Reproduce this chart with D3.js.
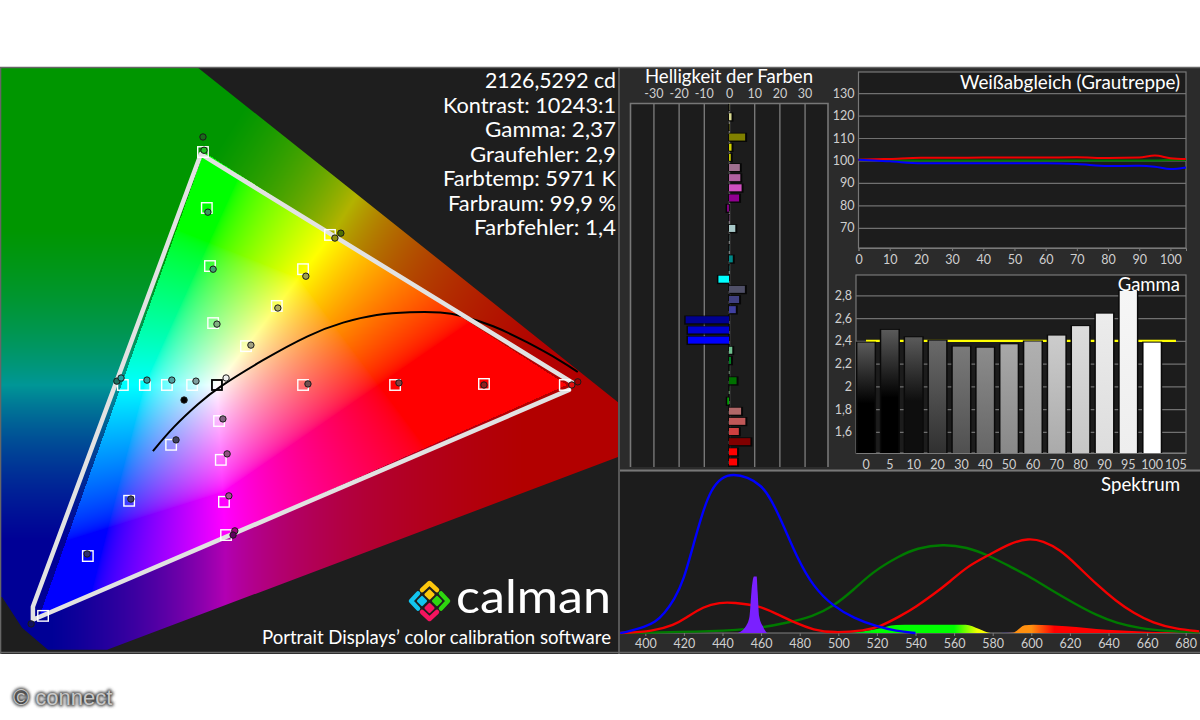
<!DOCTYPE html>
<html><head><meta charset="utf-8">
<script src="https://cdn.jsdelivr.net/npm/d3@7/dist/d3.min.js"></script>
<style>html,body{margin:0;padding:0;background:#fff}svg{display:block}text{font-family:Lato,"Open Sans",sans-serif}</style>
</head><body><div id="c"></div>
<script>
// ---- chromaticity panel data (plane centred on white point, red primary at about 100)
const targetA=[-4,-2.9,-2,-1.1,24.6,17.1,8.3,32.3,-26.9,-20.6,-14.3,-7.1,24.6,50.9,76.3,99.4,0.6,1.1,2,2.6,-13.1,-25.1,-36.9,-49.7];
const targetB=[66.6,50.6,34,17.7,33.1,22.6,11.1,42.9,0,0,0,0,0,0,0.3,0,-10.3,-21.4,-33.4,-42.9,-17.1,-33.1,-48.9,-66];
const whiteTargetA=[0], whiteTargetB=[0];
const measA=[-4,-3.7,-2.6,-1.1,0,25.4,17.4,9.7,33.7,35.4,-28.6,-27.4,-20,-12.9,-6,2.6,-9.4,1.7,2.9,3.4,5.1,4.6,-11.7,-24.6,-37.1,-53.1,26,52,76.3,101.4,103.1];
const measB=[70.9,67.1,49.4,33.1,17.4,31.1,22,11.4,42,43.4,1.1,2,1.4,1.4,1.1,2,-4.3,-9.7,-19.7,-31.7,-41.7,-42.9,-15.7,-32.6,-48.3,-68.3,0.3,0.6,0,0,0.9];
const measColor=["#1a6a1a","#20c020","#3a9a5a","#40a070","#80b080","#a0a050","#b0b060","#a0a080","#909010","#507000","#207060","#20a0a0","#30a0a0","#50a0a0","#80a0a0","#f0f0f0","#000000","#806080","#905080","#a05090","#a00080","#600060","#404060","#404060","#303070","#101060","#705050","#804040","#902020","#e01010","#a00000"];
const gamutLineA=[101.7,-4.6,-52.6,-52.6,100.6];
const gamutLineB=[0.6,66,-63.4,-67.1,-1.4];
const locusA=[-62,-5.7,114.6,114.6,-31.4,-48.3,-55.7,-61.4,-62];
const locusB=[90.9,90.9,-4.9,-20.6,-75.7,-75.7,-69.4,-60.6,-60.6];
const planckA=[-18.3,-12.6,-4.9,0,12.9,26.6,36,45.7,55.1,64.6,69.4,78.9,88.6,98.9,103.1];
const planckB=[-18.9,-12,-4.9,-0.9,7.1,14.6,18,20.3,20.9,20.9,20,17.1,12.3,6.6,3.7];
const statLines=["2126,5292 cd","Kontrast: 10243:1","Gamma: 2,37","Graufehler: 2,9","Farbtemp: 5971 K","Farbraum: 99,9 %","Farbfehler: 1,4"];
const statWidths=[131,173,131,146,173,168,142];
// ---- Helligkeit der Farben
const lumValues=[0.1,1,0.1,6.4,1,0.7,4.3,4.5,5,4,-0.8,0.2,2.5,0.1,0.1,1.5,0.1,-4.2,6.3,4,2.7,-17.2,-16.3,-16.3,1.3,0.8,0.1,3,0.1,-0.7,4.8,6.5,3.9,8.5,3.2,3.2];
const lumColors=["#e0e090","#d8d890","#d0d000","#808000","#d0d000","#c8c800","#a07090","#b060a0","#d050c0","#900090","#800080","#885088","#a8c8c8","#70a0a0","#40a0a0","#008888","#00c0c0","#00ffff","#505068","#404080","#4040a0","#000090","#0000d0","#0000ff","#70c090","#008020","#006010","#007000","#009000","#00a000","#b06868","#c05858","#d04040","#800000","#ff0000","#ff0000"];
const lumTicks=[-30,-20,-10,0,10,20,30];
// ---- Weißabgleich
const grayX=[0,5,10,20,30,40,50,60,70,80,90,95,100,105];
const grayRed=[100.3,100.5,100.7,101.2,101.2,101.3,101.3,101.3,101.4,101.1,101.3,102.2,101,100.6];
const grayGreen=[100.3,100.2,100.1,100,100,100,100,100,100,100,100,100,100.2,100.2];
const grayBlue=[100.3,100,99.6,98.7,98.8,98.8,98.7,98.7,98.4,97.5,97.6,97.2,96.2,96.9];
const grayTicksY=[70,80,90,100,110,120,130];
const grayTicksX=[0,10,20,30,40,50,60,70,80,90,100];
// ---- Gamma
const gammaCats=["0","5","10","20","30","40","50","60","70","80","90","95","100","105"];
const gammaVals=[2.385,2.497,2.432,2.403,2.35,2.34,2.37,2.395,2.447,2.53,2.64,2.84,2.385,null];
const gammaTop=["#5a5a5a","#5a5a5a","#5a5a5a","#6a6a6a","#7a7a7a","#8c8c8c","#a8a8a8","#b0b0b0","#cccccc","#dcdcdc","#ececec","#f6f6f6","#ffffff","#fff"];
const gammaBottom=["#000000","#000000","#0e0e0e","#303030","#505050","#666666","#888888","#999999","#aaaaaa","#c6c6c6","#dddddd","#eeeeee","#ffffff","#fff"];
const gammaTarget=2.4;
const gammaTicks=[1.6,1.8,2,2.2,2.4,2.6,2.8];
// ---- Spektrum
const blueNm=[387,390,400,405,410,415,420,425,430,434,439.5,445.6,453,460,465,471.5,478.4,487,497.5,508,520,530,540];
const blueVal=[0,0.005,0.04,0.067,0.125,0.21,0.335,0.56,0.77,0.9,0.98,1,0.98,0.93,0.847,0.68,0.48,0.29,0.167,0.094,0.04,0.012,0];
const redNm=[387,404,415,421,430,438.7,445.6,459.4,468,478.4,487,497.4,514,521.6,532,540.5,549,558,566.7,578,589,598.4,606,615,623.4,634,644,653,663,675,687];
const redVal=[0,0.01,0.05,0.094,0.167,0.192,0.192,0.17,0.12,0.06,0.02,0,0.015,0.04,0.105,0.167,0.24,0.324,0.418,0.49,0.565,0.596,0.58,0.523,0.429,0.303,0.2,0.125,0.063,0.025,0.01];
const greenNm=[387,438,459,473,487,497.4,508,518,532,540.5,554,566.7,578,589,599,610,622,634,644,656,670,687];
const greenVal=[0,0.01,0.03,0.063,0.105,0.167,0.272,0.387,0.487,0.533,0.56,0.54,0.487,0.418,0.356,0.272,0.188,0.11,0.063,0.03,0.012,0.004];
const spikeNm=[448,452.5,454,455,456.3,457.7,458.2,459,461,463];
const spikeVal=[0,0.05,0.105,0.26,0.355,0.355,0.26,0.105,0.04,0];
const bandNm=[505,510,520,525,530,539,560,566,573,579,584,590.6,596.6,601,618,639,660,687];
const bandVal=[0,0.005,0.025,0.04,0.05,0.052,0.052,0.052,0.025,0,0,0.003,0.048,0.052,0.042,0.02,0.008,0];
const bandStopNm=[505,520,560,572,578,585,592,600,612,687];
const bandStopCol=["#00c040","#00ff00","#00ff00","#f0ff00","#ffff00","#0000ff","#ff9010","#ff9010","#ff0000","#ff0000"];
const spectrumTicks=[400,420,440,460,480,500,520,540,560,580,600,620,640,660,680];

const W=1200,H=720;
const svg=d3.select("#c").append("svg").attr("width",W).attr("height",H).attr("viewBox",`0 0 ${W} ${H}`);
const defs=svg.append("defs");
svg.append("rect").attr("width",W).attr("height",H).attr("fill","#fff");

// ======= Left panel
const xS=d3.scaleLinear().domain([-62,114.6]).range([0,618]);
const yS=d3.scaleLinear().domain([90.9,-76.9]).range([67,654]);
svg.append("rect").attr("x",0).attr("y",67).attr("width",620).attr("height",587).attr("fill","#1e1e1e");

// colour field painted on a canvas through the same scales
(function(){
  const cw=618,ch=587,y0=67;
  const cv=document.createElement("canvas");cv.width=cw;cv.height=ch;
  const ctx=cv.getContext("2d");const im=ctx.createImageData(cw,ch);
  const R=[xS(100),yS(0)],G=[xS(-3.7),yS(66.6)],B=[xS(-51),yS(-66.9)],Wt=[xS(0),yS(0)];
  const den=(G[1]-B[1])*(R[0]-B[0])+(B[0]-G[0])*(R[1]-B[1]);
  const bary=(x,y)=>{const a=((G[1]-B[1])*(x-B[0])+(B[0]-G[0])*(y-B[1]))/den;
    const b=((B[1]-R[1])*(x-B[0])+(R[0]-B[0])*(y-B[1]))/den;return [a,b,1-a-b];};
  const wb=bary(Wt[0],Wt[1]);
  const col=(a,b,c,t,gm)=>{let r=Math.max(a,0)/wb[0],g=Math.max(b,0)/wb[1],bl=Math.max(c,0)/wb[2];
    const m=Math.max(r,g,bl);r/=m;g/=m;bl/=m;const f=v=>Math.pow(Math.max(0,(v-t)/(1-t)),gm);
    return [f(r),f(g),f(bl)];};
  const lerp=(P,Q,t)=>[P[0]+(Q[0]-P[0])*t,P[1]+(Q[1]-P[1])*t];
  const clamp=t=>Math.max(0,Math.min(1,t));
  for(let j=0;j<ch;j++)for(let i=0;i<cw;i++){
    const x=i+.5,y=j+y0+.5;const [a,b,c]=bary(x,y);let rgb,k=1;
    if(a>=0&&b>=0&&c>=0)rgb=col(a,b,c,0.2,0.6);
    else{
      let p,t;
      if(a<0){p=lerp(G,B,clamp((y-G[1])/(B[1]-G[1])));t=0.2;}
      else if(b<0){p=lerp(B,R,clamp((x-B[0])/(R[0]-B[0])));t=0.05;}
      else{const dx=R[0]-G[0],dy=R[1]-G[1];p=lerp(G,R,clamp(((x-G[0])*dx+(y-G[1])*dy)/(dx*dx+dy*dy)));t=0.05;}
      const q=bary(p[0],p[1]);rgb=col(q[0],q[1],q[2],t,1);k=0.59+0.11*rgb[0];
    }
    const o=(j*cw+i)*4;im.data[o]=255*rgb[0]*k;im.data[o+1]=255*rgb[1]*k;im.data[o+2]=255*rgb[2]*k;im.data[o+3]=255;
  }
  ctx.putImageData(im,0,0);
  const line=d3.line().x(d=>xS(d[0])).y(d=>yS(d[1]));
  defs.append("clipPath").attr("id","gamutClip").append("path").attr("d",line(d3.zip(locusA,locusB))+"Z");
  svg.append("image").attr("x",0).attr("y",y0).attr("width",cw).attr("height",ch).attr("href",cv.toDataURL()).attr("clip-path","url(#gamutClip)");
})();

svg.append("path").attr("d",d3.line().curve(d3.curveBasis).x(d=>xS(d[0])).y(d=>yS(d[1]))(d3.zip(planckA,planckB))).attr("fill","none").attr("stroke","#000").attr("stroke-width",2);
svg.append("path").attr("d",d3.line().x(d=>xS(d[0])).y(d=>yS(d[1]))(d3.zip(gamutLineA,gamutLineB))).attr("fill","none").attr("stroke","#e2e2e2").attr("stroke-width",4.5).attr("stroke-linecap","round").attr("stroke-linejoin","round");

const sq=10.5;
svg.append("g").selectAll("rect").data(d3.zip(targetA,targetB)).join("rect")
  .attr("x",d=>xS(d[0])-sq/2).attr("y",d=>yS(d[1])-sq/2).attr("width",sq).attr("height",sq)
  .attr("fill","none").attr("stroke","#fff").attr("stroke-width",1.4);
svg.append("g").selectAll("rect").data(d3.zip(whiteTargetA,whiteTargetB)).join("rect")
  .attr("x",d=>xS(d[0])-5).attr("y",d=>yS(d[1])-5).attr("width",10).attr("height",10)
  .attr("fill","none").attr("stroke","#000").attr("stroke-width",1.8);
svg.append("g").selectAll("circle").data(d3.zip(measA,measB,measColor)).join("circle")
  .attr("cx",d=>xS(d[0])).attr("cy",d=>yS(d[1])).attr("r",3.2).attr("fill",d=>d[2]).attr("stroke","#1a1a1a").attr("stroke-width",1);

svg.append("g").selectAll("text").data(statLines).join("text")
  .attr("x",616).attr("y",(d,i)=>88+i*24.5).attr("text-anchor","end").attr("fill","#fff").attr("font-size",22)
  .attr("textLength",(d,i)=>statWidths[i]).attr("lengthAdjust","spacingAndGlyphs").text(d=>d);

// calman logo
const logo=svg.append("g");
const dia=(cx,cy,s,c)=>logo.append("rect").attr("x",cx-s/2).attr("y",cy-s/2).attr("width",s).attr("height",s).attr("rx",1.5)
   .attr("transform",`rotate(45 ${cx} ${cy})`).attr("fill",c);
const chev=(pts,c)=>logo.append("path").attr("d",d3.line()(pts)).attr("fill","none").attr("stroke",c).attr("stroke-width",4.5).attr("stroke-linejoin","round").attr("stroke-linecap","round");
chev([[422,590],[429.5,583],[437,590]],"#fdc70c");dia(429.5,594.5,8,"#fdc70c");
chev([[418,593.5],[411,601],[418,608.5]],"#12c5f0");dia(422,601,8,"#12c5f0");
chev([[441,593.5],[448,601],[441,608.5]],"#2ed60f");dia(437,601,8,"#2ed60f");
chev([[422,612],[429.5,619],[437,612]],"#f5145f");dia(429.5,608,8,"#f5145f");
svg.append("text").attr("x",456).attr("y",613).attr("fill","#fff").attr("font-size",47).attr("textLength",155).attr("lengthAdjust","spacingAndGlyphs").text("calman");
svg.append("text").attr("x",611).attr("y",644).attr("text-anchor","end").attr("fill","#fff").attr("font-size",18.5).attr("textLength",349).attr("lengthAdjust","spacingAndGlyphs").text("Portrait Displays’ color calibration software");

// panel frame
svg.append("rect").attr("x",620).attr("y",67).attr("width",580).attr("height",587).attr("fill","#2b2b2b");
svg.append("path").attr("d","M0,67.5H1200M0.5,67V654M619,67V654M0,652.5H1200").attr("fill","none").attr("stroke","#666").attr("stroke-width",1.6);

const tickStyle=g=>{g.selectAll("text").attr("fill","#cfcfcf").attr("font-size",12.5);g.select(".domain").attr("stroke","#808080");g.selectAll("line").attr("stroke","#7c7c7c");};

// ======= Helligkeit
const lx=d3.scaleLinear().domain([-39.3,39.3]).range([630,828]);
const ly=d3.scaleBand().domain(d3.range(lumValues.length)).range([101.5,467]);
svg.append("rect").attr("x",630).attr("y",103).attr("width",198).attr("height",364).attr("fill","#1c1c1c");
const lg=svg.append("g").attr("transform","translate(0,103)").call(d3.axisTop(lx).tickValues(lumTicks).tickSize(-364).tickPadding(5).tickFormat(d3.format("d")));
lg.call(tickStyle);lg.select(".domain").remove();lg.selectAll("line").attr("stroke-width",1.4).attr("stroke","#777");
lg.selectAll("text").text(d=>String(d));
svg.append("path").attr("d",`M630.5,467V103.5H828V467`).attr("fill","none").attr("stroke","#777").attr("stroke-width",1.6);
svg.append("line").attr("x1",lx(0)).attr("x2",lx(0)).attr("y1",104).attr("y2",467).attr("stroke","#000").attr("stroke-width",1.5).attr("stroke-dasharray","7 3");
svg.append("g").selectAll("rect").data(lumValues).join("rect")
  .attr("x",d=>Math.min(lx(d),lx(0))-1.5+(d>0?1.5:0)).attr("y",(d,i)=>ly(i)+0.8).attr("width",d=>Math.abs(lx(d)-lx(0))+2).attr("height",9.2).attr("fill","#000").attr("opacity",d=>Math.abs(d)<0.3?0:0.75);
svg.append("g").selectAll("rect").data(lumValues).join("rect")
  .attr("x",d=>Math.min(lx(d),lx(0))).attr("y",(d,i)=>ly(i)+1.6).attr("width",d=>Math.abs(lx(d)-lx(0))).attr("height",7)
  .attr("fill",(d,i)=>lumColors[i]);
svg.append("text").attr("x",729).attr("y",83).attr("text-anchor","middle").attr("fill","#fff").attr("font-size",18.5).attr("textLength",168).attr("lengthAdjust","spacingAndGlyphs").text("Helligkeit der Farben");

// ======= Weißabgleich
const gx=d3.scaleLinear().domain([0,105]).range([858.5,1186]);
const gy=d3.scaleLinear().domain([61,139.4]).range([248,72]);
svg.append("rect").attr("x",858).attr("y",72).attr("width",328).attr("height",176).attr("fill","#1c1c1c");
const gya=svg.append("g").attr("transform","translate(858.5,0)").call(d3.axisLeft(gy).tickValues(grayTicksY).tickSize(-327.5).tickPadding(4));
gya.call(tickStyle);gya.select(".domain").remove();gya.selectAll("line").attr("stroke","#707070").attr("stroke-width",1.2);
const gxa=svg.append("g").attr("transform","translate(0,248)").call(d3.axisBottom(gx).tickValues(grayTicksX).tickSize(3).tickPadding(4));
gxa.call(tickStyle);
svg.append("rect").attr("x",858.5).attr("y",72).attr("width",327.5).attr("height",176).attr("fill","none").attr("stroke","#777").attr("stroke-width",1.2);
[[grayGreen,"#007a00"],[grayRed,"#f00000"],[grayBlue,"#0000ff"]].forEach(([v,c])=>{
  svg.append("path").attr("d",d3.line().curve(d3.curveMonotoneX).x((d,i)=>gx(grayX[i])).y(d=>gy(d))(v)).attr("fill","none").attr("stroke",c).attr("stroke-width",2);
});
svg.append("text").attr("x",1180).attr("y",89).attr("text-anchor","end").attr("fill","#fff").attr("font-size",18.5).attr("textLength",220).attr("lengthAdjust","spacingAndGlyphs").text("Weißabgleich (Grautreppe)");

// ======= Gamma
const bx=d3.scaleBand().domain(gammaCats).range([856,1186]).paddingInner(0.28).paddingOuter(0.06);
const by=d3.scaleLinear().domain([1.414,2.98]).range([453,275]);
svg.append("rect").attr("x",856).attr("y",275).attr("width",330).attr("height",178).attr("fill","#1c1c1c");
const bya=svg.append("g").attr("transform","translate(856,0)").call(d3.axisLeft(by).tickValues(gammaTicks).tickSize(-330).tickPadding(4).tickFormat(d=>String(d).replace(".",",")));
bya.call(tickStyle);bya.select(".domain").remove();bya.selectAll("line").attr("stroke","#707070").attr("stroke-width",1.2);
const bxa=svg.append("g").attr("transform","translate(0,453)").call(d3.axisBottom(bx).tickSize(0).tickPadding(7));
bxa.call(tickStyle);
svg.append("rect").attr("x",856).attr("y",275).attr("width",330).attr("height",178).attr("fill","none").attr("stroke","#777").attr("stroke-width",1.2);
svg.append("line").attr("x1",bx("0")+bx.bandwidth()/2).attr("x2",bx("105")+bx.bandwidth()/2).attr("y1",by(gammaTarget)).attr("y2",by(gammaTarget)).attr("stroke","#ffff00").attr("stroke-width",2.2);
gammaVals.forEach((v,i)=>{const g=defs.append("linearGradient").attr("id","gb"+i).attr("x1",0).attr("x2",0).attr("y1",0).attr("y2",1);
  g.append("stop").attr("offset","0%").attr("stop-color",gammaTop[i]);
  g.append("stop").attr("offset",i<3?"55%":"100%").attr("stop-color",gammaBottom[i]);});
const bars=gammaCats.map((c,i)=>({c,v:gammaVals[i],i})).filter(d=>d.v!==null);
svg.append("g").selectAll("rect").data(bars).join("rect")
  .attr("x",d=>bx(d.c)-1.5).attr("y",d=>by(d.v)-1).attr("width",bx.bandwidth()+3).attr("height",d=>by(1.414)-by(d.v)+1).attr("fill","#0a0a0a");
svg.append("g").selectAll("rect").data(bars).join("rect")
  .attr("x",d=>bx(d.c)).attr("y",d=>by(d.v)).attr("width",bx.bandwidth()).attr("height",d=>by(1.414)-by(d.v)).attr("fill",d=>`url(#gb${d.i})`);
svg.append("text").attr("x",1180).attr("y",291).attr("text-anchor","end").attr("fill","#fff").attr("font-size",18.5).text("Gamma");

// ======= Spektrum
const sx=d3.scaleLinear().domain([400,680]).range([645.3,1185.7]);
const sy=d3.scaleLinear().domain([0,1]).range([633,474]);
svg.append("rect").attr("x",620).attr("y",472).attr("width",580).attr("height",161).attr("fill","#1c1c1c");
svg.append("line").attr("x1",620).attr("x2",1200).attr("y1",470.5).attr("y2",470.5).attr("stroke","#777").attr("stroke-width",2);
const sa=svg.append("g").attr("transform","translate(0,633)").call(d3.axisBottom(sx).tickValues(spectrumTicks).tickSize(3).tickPadding(3));
sa.call(tickStyle);sa.select(".domain").attr("d","M620,0H1200");
const area=(xs,ys)=>d3.area().curve(d3.curveMonotoneX).x((d,i)=>sx(xs[i])).y0(sy(0)).y1(d=>sy(d))(ys);
const bg=defs.append("linearGradient").attr("id","bandGrad").attr("gradientUnits","userSpaceOnUse").attr("x1",sx(505)).attr("x2",sx(687)).attr("y1",0).attr("y2",0);
bandStopNm.forEach((n,i)=>bg.append("stop").attr("offset",(n-505)/182).attr("stop-color",bandStopCol[i]));
svg.append("path").attr("d",area(bandNm,bandVal)).attr("fill","url(#bandGrad)");
const curves=[[greenNm,greenVal,"#007a00"],[redNm,redVal,"#f40000"],[blueNm,blueVal,"#0000ff"]];
curves.forEach(([n,v,c])=>svg.append("path").attr("d",d3.line().curve(d3.curveBasis).x((d,i)=>sx(n[i])).y(d=>sy(d))(v)).attr("fill","none").attr("stroke",c).attr("stroke-width",2.4));
svg.append("path").attr("d",area(spikeNm,spikeVal)).attr("fill","#7a20ff");
svg.append("text").attr("x",1180).attr("y",491).attr("text-anchor","end").attr("fill","#fff").attr("font-size",18.5).attr("textLength",79).attr("lengthAdjust","spacingAndGlyphs").text("Spektrum");

// watermark
defs.append("filter").attr("id","glow").attr("x","-20%").attr("y","-60%").attr("width","140%").attr("height","220%").append("feGaussianBlur").attr("stdDeviation",1.8);
const wm=svg.append("g");
wm.append("text").attr("x",13).attr("y",705).attr("font-size",22).attr("fill","#444").attr("stroke","#444").attr("stroke-width",2.5).attr("filter","url(#glow)").style("font-family","'Liberation Sans'").text("© connect");
wm.append("text").attr("x",13).attr("y",705).attr("font-size",22).attr("fill","#c8c8c8").style("font-family","'Liberation Sans'").text("© connect");
</script></body></html>
